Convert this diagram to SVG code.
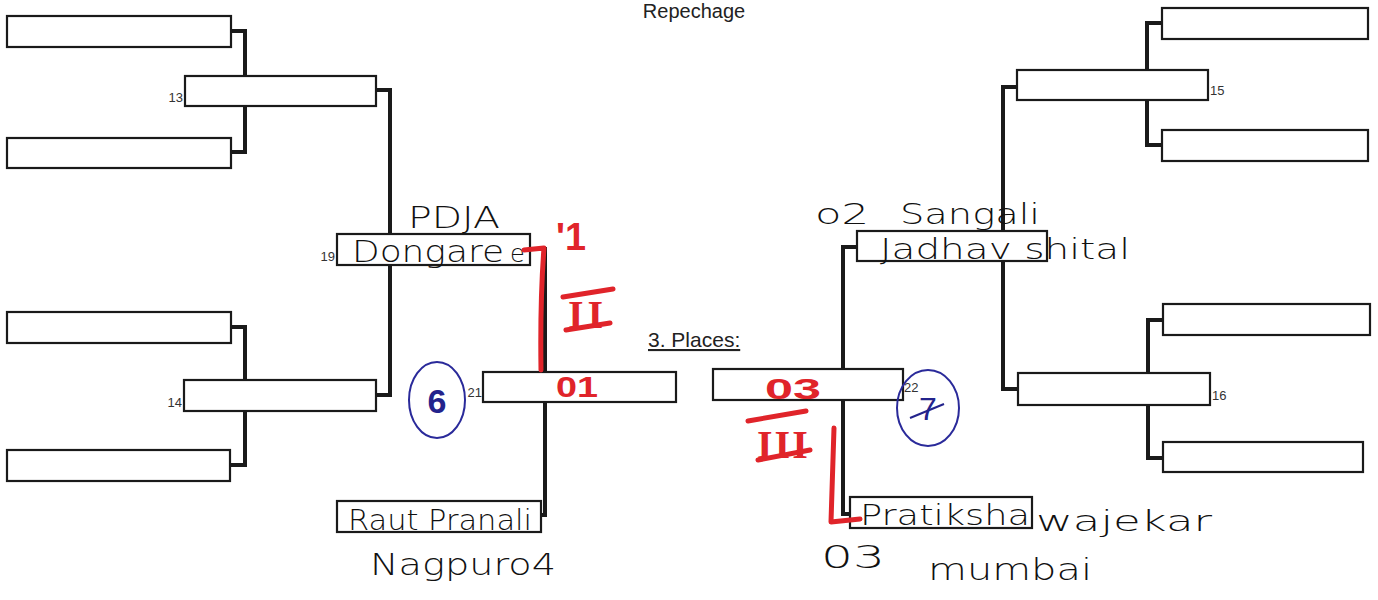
<svg xmlns="http://www.w3.org/2000/svg" width="1378" height="600" viewBox="0 0 1378 600">
<style>
.box{fill:#fff;stroke:#1a1a1a;stroke-width:2.2}
.con{fill:none;stroke:#1a1a1a;stroke-width:4;stroke-linejoin:miter}
.num{font-family:"Liberation Sans",Arial,sans-serif;font-size:13px;fill:#333}
.hw{font-family:"DejaVu Sans","Liberation Sans",sans-serif;font-weight:300;fill:#111}
.red{font-family:"Liberation Sans",Arial,sans-serif;font-weight:bold;fill:#e0242a}
.redr{font-family:"Liberation Serif","Times New Roman",serif;font-weight:bold;fill:#e0242a}
.blue{font-family:"Liberation Sans",Arial,sans-serif;fill:#23238c}
.title{font-family:"Liberation Sans",Arial,sans-serif;fill:#222}
.rmark{fill:none;stroke:#e0242a;stroke-width:5;stroke-linecap:round;stroke-linejoin:round}
.bc{fill:none;stroke:#2a2a9a;stroke-width:2}
</style>
<rect width="1378" height="600" fill="#fff"/>
<text class="title" x="694" y="18" font-size="20" text-anchor="middle">Repechage</text>
<text class="title" x="648" y="347" font-size="21" text-decoration="underline">3. Places:</text>

<g id="connectors">
<path class="con" d="M231 31 H245 V90 M245 106 V152 H231"/>
<path class="con" d="M376 90 H390 V395 H376"/>
<path class="con" d="M231 327 H245 V395 M245 411 V465 H231"/>
<path class="con" d="M530 249 H545 V386 M545 402 V515 H541"/>
<path class="con" d="M1162 23 H1147 V85 M1147 100 V145 H1162"/>
<path class="con" d="M1017 87 H1003 V389 H1018"/>
<path class="con" d="M1163 320 H1148 V389 M1148 405 V458 H1163"/>
<path class="con" d="M857 247 H843 V385 M843 400 V514 H850"/>
</g>

<g id="n1"><rect class="box" x="7" y="16" width="224" height="31"/></g>
<g id="n2"><rect class="box" x="7" y="138" width="224" height="30"/></g>
<g id="n13"><rect class="box" x="185" y="76" width="191" height="30"/><text class="num" x="183" y="102" text-anchor="end">13</text></g>
<g id="n3"><rect class="box" x="7" y="312" width="224" height="31"/></g>
<g id="n4"><rect class="box" x="7" y="450" width="223" height="31"/></g>
<g id="n14"><rect class="box" x="184" y="380" width="192" height="31"/><text class="num" x="182" y="407" text-anchor="end">14</text></g>
<g id="n19"><rect class="box" x="337" y="234" width="193" height="31"/><text class="num" x="335" y="261" text-anchor="end">19</text></g>
<g id="n21"><rect class="box" x="483" y="372" width="193" height="30"/><text class="num" x="482" y="397" text-anchor="end">21</text></g>
<g id="nRaut"><rect class="box" x="337" y="501" width="204" height="31"/></g>
<g id="nR1"><rect class="box" x="1162" y="8" width="206" height="31"/></g>
<g id="n15"><rect class="box" x="1017" y="70" width="191" height="30"/><text class="num" x="1210" y="95">15</text></g>
<g id="nR2"><rect class="box" x="1162" y="130" width="206" height="31"/></g>
<g id="nR3"><rect class="box" x="1163" y="304" width="207" height="31"/></g>
<g id="n16"><rect class="box" x="1018" y="373" width="192" height="32"/><text class="num" x="1212" y="400">16</text></g>
<g id="nR4"><rect class="box" x="1163" y="442" width="200" height="30"/></g>
<g id="n20"><rect class="box" x="857" y="231" width="190" height="30"/></g>
<g id="n22"><rect class="box" x="713" y="369" width="190" height="31"/><text class="num" x="904" y="392">22</text></g>
<g id="nPrat"><rect class="box" x="850" y="497" width="182" height="31"/></g>

<g id="handwriting">
<text class="hw" x="408" y="228" font-size="30" textLength="92" lengthAdjust="spacingAndGlyphs">PDJA</text>
<text class="hw" x="352" y="262" font-size="30" textLength="152" lengthAdjust="spacingAndGlyphs">Dongare</text>
<text class="hw" x="510" y="262" font-size="24">e</text>
<text class="hw" x="348" y="530" font-size="28" textLength="184" lengthAdjust="spacingAndGlyphs">Raut Pranali</text>
<text class="hw" x="370" y="575" font-size="30" textLength="186" lengthAdjust="spacingAndGlyphs">Nagpuro4</text>
<text class="hw" x="815" y="224" font-size="28" textLength="54" lengthAdjust="spacingAndGlyphs">o2</text>
<text class="hw" x="900" y="224" font-size="28" textLength="140" lengthAdjust="spacingAndGlyphs">Sangali</text>
<text class="hw" x="880" y="259" font-size="28" textLength="250" lengthAdjust="spacingAndGlyphs">Jadhav shital</text>
<text class="hw" x="860" y="525" font-size="28" textLength="170" lengthAdjust="spacingAndGlyphs">Pratiksha</text>
<text class="hw" x="1036" y="531" font-size="28" textLength="176" lengthAdjust="spacingAndGlyphs">wajekar</text>
<text class="hw" x="821" y="568" font-size="32" textLength="64" lengthAdjust="spacingAndGlyphs">03</text>
<text class="hw" x="928" y="580" font-size="30" textLength="164" lengthAdjust="spacingAndGlyphs">mumbai</text>
</g>

<g id="red-marks">
<path class="rmark" d="M524 250 L544 248 Q540 300 541 370"/>
<path class="rmark" d="M834 428 L831 522 L860 519"/>
<text class="red" x="556" y="250" font-size="38" textLength="30" lengthAdjust="spacingAndGlyphs">'1</text>
<text class="redr" x="568" y="328" font-size="40" letter-spacing="4">II</text>
<path class="rmark" d="M563 297 L613 289 M566 330 L610 323"/>
<text class="red" x="556" y="397" font-size="30" textLength="42" lengthAdjust="spacingAndGlyphs">01</text>
<text class="red" x="765" y="399" font-size="30" textLength="56" lengthAdjust="spacingAndGlyphs">03</text>
<text class="redr" x="757" y="458" font-size="40" letter-spacing="2">III</text>
<path class="rmark" d="M748 421 L806 411 M758 460 L810 450"/>
</g>

<g id="blue-marks">
<ellipse class="bc" cx="437" cy="400" rx="28" ry="38"/>
<text class="blue" x="437" y="413" font-size="34" text-anchor="middle" font-weight="bold">6</text>
<ellipse class="bc" cx="928" cy="408" rx="31" ry="38"/>
<text class="blue" x="928" y="420" font-size="32" text-anchor="middle">7</text>
<path d="M910 418 L944 404" stroke="#23238c" stroke-width="2" fill="none"/>
</g>
</svg>
